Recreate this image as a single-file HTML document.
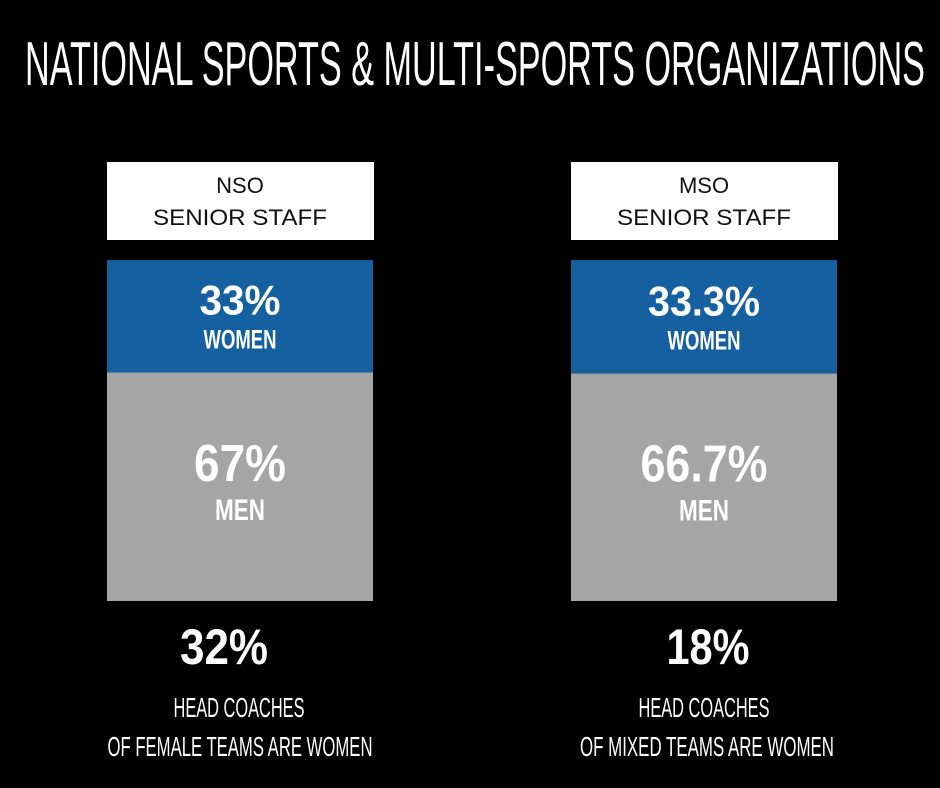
<!DOCTYPE html>
<html><head><meta charset="utf-8"><style>
html,body{margin:0;padding:0;background:#000;}
svg{display:block;}
text{font-family:"Liberation Sans Narrow","Liberation Sans",sans-serif;fill:#fff;}
.box{font-family:"Liberation Sans",sans-serif;fill:#111;font-size:22px;}
</style></head><body>
<svg id="chart" width="940" height="788" viewBox="0 0 940 788">
<text x="25" y="85" font-size="62" textLength="900" lengthAdjust="spacingAndGlyphs">NATIONAL SPORTS &amp; MULTI-SPORTS ORGANIZATIONS</text>
</svg>
<script>
const categories = ["NSO", "MSO"];
const womenPct = [33, 33.3];
const menPct = [67, 66.7];
const womenLabels = ["33%", "33.3%"];
const menLabels = ["67%", "66.7%"];
const coachPct = ["32%", "18%"];
const coachLine2 = ["OF FEMALE TEAMS ARE WOMEN", "OF MIXED TEAMS ARE WOMEN"];

const svg = document.getElementById('chart');
const NS = 'http://www.w3.org/2000/svg';
const barLeft = [107, 571];
const barW = 266;
const barTop = 260, barBottom = 601;
function yScale(p){ return barTop + (barBottom - barTop) * p / 100; }

function mk(tag, attrs, txt){
  const e = document.createElementNS(NS, tag);
  for (const k in attrs) e.setAttribute(k, attrs[k]);
  if (txt !== undefined) e.textContent = txt;
  svg.appendChild(e);
  return e;
}
function txt(x, y, size, s, w, weight){
  const t = mk('text', {x: x, y: y, 'font-size': size, 'text-anchor': 'middle', 'font-weight': weight || 'normal'}, s);
  if (w) { t.setAttribute('textLength', w); t.setAttribute('lengthAdjust', 'spacingAndGlyphs'); }
  return t;
}

categories.forEach((c, i) => {
  const x = barLeft[i], cx = x + barW / 2;
  const box = mk('rect', {x: x, y: 162, width: barW + 1, height: 78, fill: '#fff'});
  
  
  const h1 = mk('text', {x: cx, y: 193, 'text-anchor': 'middle', class: 'box'}, c);
  
  
  const h2 = mk('text', {x: cx, y: 225, 'text-anchor': 'middle', class: 'box', textLength: 174, lengthAdjust: 'spacingAndGlyphs'}, 'SENIOR STAFF');
  
  

  const yW = yScale(womenPct[i]);
  const bw = mk('rect', {x: x, y: barTop, width: barW, height: yW - barTop, fill: '#1560a0'});
  
  
  const yM = yScale(womenPct[i] + menPct[i]);
  const bm = mk('rect', {x: x, y: yW, width: barW, height: yM - yW, fill: '#a5a5a5'});
  
  

  const t1 = txt(cx, yW - 58, 42, womenLabels[i], i ? 112 : 81, 'bold');
  
  
  const t2 = txt(cx, yW - 24, 27, 'WOMEN', 73, 'bold');
  
  
  const mid = (yW + yM) / 2;
  const t3 = txt(cx, mid - 6, 52, menLabels[i], i ? 127 : 92, 'bold');
  
  
  const t4 = txt(cx, mid + 33, 30, 'MEN', 50, 'bold');
  
  

  const ccx = i ? 708 : 224;
  const t5 = txt(ccx, 664, 50, coachPct[i], i ? 83 : 88, 'bold');
  
  
  const t6 = txt(cx + (i ? 0 : -1), 717, 28, 'HEAD COACHES', 131);
  
  
  const t7 = txt(i ? 707 : 240, 756, 28, coachLine2[i], i ? 254 : 265);
  
  
});
</script>
</body></html>
